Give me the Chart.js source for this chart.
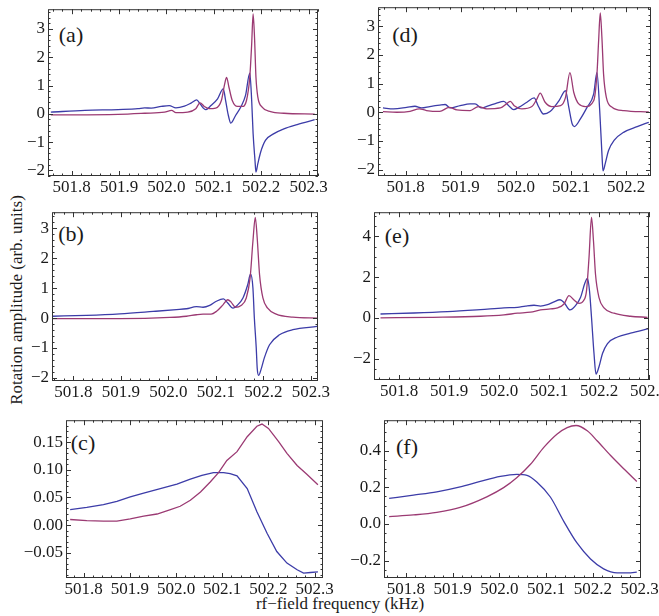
<!DOCTYPE html>
<html>
<head>
<meta charset="utf-8">
<script src="https://cdn.jsdelivr.net/npm/chart.js@4.4.0/dist/chart.umd.min.js"></script>
<style>
  body { margin: 0; background: #fff; width: 659px; height: 616px; overflow: hidden; position: relative;
         font-family: "Liberation Serif", "Times New Roman", serif; color: #1a1a1a; }
  canvas { position: absolute; }
  .tag { position: absolute; font-size: 22px; transform: translate(-50%, -50%); white-space: nowrap; }
  .title { position: absolute; font-size: 17px; white-space: nowrap; transform: translate(-50%, -50%); }
  .title.y { transform: translate(-50%, -50%) rotate(-90deg); }
</style>
</head>
<body>
<div class="tag" style="left:71px;top:35px">(a)</div>
<div class="tag" style="left:71px;top:234px">(b)</div>
<div class="tag" style="left:83px;top:443px">(c)</div>
<div class="tag" style="left:405px;top:35px">(d)</div>
<div class="tag" style="left:397px;top:236px">(e)</div>
<div class="tag" style="left:407px;top:447px">(f)</div>
<div class="title y" style="left:17px;top:300px">Rotation amplitude (arb. units)</div>
<div class="title" style="left:340px;top:604px">rf−field frequency (kHz)</div>
<script>
// tick labels
const xTicks = [501.8, 501.9, 502.0, 502.1, 502.2, 502.3];
const xTicksD = [501.8, 501.9, 502.0, 502.1, 502.2];
const yTicksAB = [-2, -1, 0, 1, 2, 3];
const yTicksE = [-2, 0, 2, 4];
const yTicksC = [-0.05, 0, 0.05, 0.1, 0.15];
const yTicksF = [-0.2, 0, 0.2, 0.4];

// (a)
const aFreqBlue = [501.756, 501.828, 501.898, 501.940, 501.954, 501.968, 501.989, 502.006, 502.020, 502.038, 502.052, 502.064, 502.071, 502.083, 502.094, 502.108, 502.120, 502.125, 502.130, 502.136, 502.146, 502.157, 502.167, 502.176, 502.180, 502.183, 502.187, 502.189, 502.193, 502.199, 502.209, 502.227, 502.248, 502.276, 502.313];
const aBlue = [0.06, 0.12, 0.15, 0.18, 0.21, 0.2, 0.26, 0.29, 0.21, 0.27, 0.38, 0.49, 0.35, 0.15, 0.29, 0.53, 0.88, 0.47, 0.0, -0.33, -0.06, 0.24, 0.65, 1.44, 0.47, -0.7, -1.65, -2.06, -1.76, -1.35, -0.94, -0.7, -0.53, -0.38, -0.21];
const aFreqRed = [501.756, 501.898, 501.954, 501.996, 502.011, 502.020, 502.045, 502.062, 502.071, 502.080, 502.090, 502.104, 502.116, 502.123, 502.127, 502.132, 502.139, 502.150, 502.160, 502.169, 502.176, 502.180, 502.183, 502.186, 502.189, 502.193, 502.202, 502.220, 502.248, 502.313];
const aRed = [-0.04, -0.02, 0.02, 0.06, 0.12, 0.04, 0.06, 0.18, 0.39, 0.26, 0.18, 0.2, 0.47, 1.06, 1.29, 0.94, 0.47, 0.26, 0.26, 0.47, 1.3, 2.47, 3.53, 2.7, 1.3, 0.59, 0.24, 0.08, 0.02, -0.01];

// (b)
const bFreqBlue = [501.756, 501.828, 501.898, 501.968, 502.017, 502.038, 502.059, 502.073, 502.087, 502.101, 502.116, 502.125, 502.136, 502.146, 502.157, 502.167, 502.173, 502.178, 502.181, 502.185, 502.187, 502.190, 502.195, 502.202, 502.213, 502.234, 502.262, 502.313];
const bBlue = [0.06, 0.09, 0.14, 0.22, 0.28, 0.31, 0.38, 0.36, 0.42, 0.56, 0.64, 0.5, 0.33, 0.44, 0.67, 1.11, 1.47, 1.0, 0.0, -1.0, -1.67, -1.91, -1.72, -1.33, -0.89, -0.56, -0.39, -0.28];
const bFreqRed = [501.756, 501.898, 502.003, 502.038, 502.059, 502.073, 502.090, 502.101, 502.115, 502.125, 502.132, 502.141, 502.153, 502.164, 502.172, 502.178, 502.183, 502.187, 502.192, 502.199, 502.209, 502.227, 502.262, 502.313];
const bRed = [-0.02, -0.02, 0.02, 0.06, 0.11, 0.13, 0.13, 0.22, 0.44, 0.61, 0.53, 0.36, 0.42, 0.67, 1.33, 2.56, 3.36, 2.67, 1.44, 0.67, 0.33, 0.13, 0.03, 0.0];

// (c) measured
const cFreqBlue = [501.771, 501.807, 501.843, 501.872, 501.901, 501.930, 501.966, 502.002, 502.031, 502.056, 502.081, 502.103, 502.117, 502.132, 502.154, 502.175, 502.197, 502.218, 502.240, 502.262, 502.276, 502.291, 502.307];
const cBlue = [0.028, 0.032, 0.037, 0.043, 0.051, 0.058, 0.066, 0.074, 0.083, 0.090, 0.095, 0.095, 0.093, 0.089, 0.066, 0.024, -0.015, -0.048, -0.069, -0.081, -0.087, -0.086, -0.085];
const cFreqRed = [501.771, 501.807, 501.843, 501.872, 501.901, 501.930, 501.959, 501.988, 502.009, 502.031, 502.053, 502.074, 502.092, 502.110, 502.132, 502.154, 502.175, 502.186, 502.200, 502.222, 502.240, 502.262, 502.283, 502.307];
const cRed = [0.010, 0.008, 0.007, 0.007, 0.011, 0.016, 0.020, 0.028, 0.034, 0.045, 0.060, 0.078, 0.095, 0.117, 0.133, 0.160, 0.179, 0.183, 0.175, 0.151, 0.130, 0.108, 0.092, 0.073];

// (d)
const dFreqBlue = [501.759, 501.778, 501.802, 501.817, 501.829, 501.844, 501.862, 501.872, 501.881, 501.899, 501.917, 501.926, 501.938, 501.950, 501.965, 501.978, 501.987, 501.996, 502.005, 502.020, 502.033, 502.041, 502.050, 502.062, 502.078, 502.090, 502.096, 502.102, 502.106, 502.117, 502.129, 502.141, 502.147, 502.152, 502.156, 502.158, 502.162, 502.168, 502.178, 502.196, 502.220, 502.241];
const dBlue = [0.15, 0.12, 0.17, 0.21, 0.15, 0.2, 0.25, 0.27, 0.15, 0.23, 0.29, 0.29, 0.15, 0.22, 0.32, 0.38, 0.23, 0.09, 0.17, 0.35, 0.5, 0.2, -0.06, 0.03, 0.4, 0.75, 0.17, -0.4, -0.5, -0.23, 0.17, 0.63, 1.38, 0.06, -1.44, -2.04, -1.79, -1.33, -0.98, -0.69, -0.5, -0.35];
const dFreqRed = [501.759, 501.784, 501.808, 501.825, 501.838, 501.862, 501.879, 501.893, 501.917, 501.932, 501.947, 501.972, 501.984, 501.990, 501.997, 502.011, 502.029, 502.038, 502.044, 502.053, 502.065, 502.081, 502.090, 502.098, 502.105, 502.114, 502.126, 502.141, 502.147, 502.150, 502.153, 502.156, 502.159, 502.164, 502.175, 502.196, 502.241];
const dRed = [0.02, 0.0, 0.03, 0.12, 0.06, 0.03, 0.17, 0.08, 0.06, 0.2, 0.12, 0.15, 0.31, 0.38, 0.23, 0.12, 0.2, 0.46, 0.67, 0.35, 0.2, 0.23, 0.52, 1.38, 0.69, 0.29, 0.2, 0.4, 1.33, 2.48, 3.46, 2.6, 1.33, 0.52, 0.17, 0.06, 0.01];

// (e)
const eFreqBlue = [501.763, 501.830, 501.897, 501.963, 502.010, 502.037, 502.053, 502.070, 502.083, 502.097, 502.110, 502.122, 502.130, 502.142, 502.153, 502.163, 502.172, 502.177, 502.181, 502.185, 502.190, 502.194, 502.200, 502.207, 502.217, 502.237, 502.263, 502.300];
const eBlue = [0.19, 0.24, 0.31, 0.41, 0.49, 0.52, 0.58, 0.62, 0.58, 0.65, 0.79, 0.89, 0.76, 0.39, 0.6, 1.0, 1.73, 1.94, 1.33, 0.03, -1.75, -2.76, -2.4, -1.75, -1.26, -0.94, -0.75, -0.53];
const eFreqRed = [501.763, 501.863, 501.963, 502.010, 502.037, 502.063, 502.083, 502.103, 502.117, 502.130, 502.140, 502.150, 502.160, 502.169, 502.175, 502.180, 502.185, 502.189, 502.193, 502.200, 502.210, 502.230, 502.263, 502.297];
const eRed = [0.0, 0.03, 0.08, 0.15, 0.23, 0.28, 0.39, 0.44, 0.49, 0.68, 1.09, 0.88, 0.71, 0.84, 1.33, 2.95, 4.93, 3.76, 2.14, 1.0, 0.49, 0.23, 0.08, 0.03];

// (f) model
const fFreqBlue = [501.764, 501.816, 501.866, 501.916, 501.959, 502.002, 502.037, 502.059, 502.080, 502.109, 502.138, 502.166, 502.195, 502.223, 502.252, 502.281, 502.294];
const fBlue = [0.139, 0.157, 0.175, 0.202, 0.232, 0.259, 0.270, 0.265, 0.229, 0.147, 0.013, -0.104, -0.191, -0.245, -0.267, -0.267, -0.263];
const fFreqRed = [501.764, 501.816, 501.866, 501.916, 501.973, 502.009, 502.037, 502.066, 502.095, 502.123, 502.145, 502.164, 502.188, 502.209, 502.238, 502.266, 502.294];
const fRed = [0.040, 0.049, 0.063, 0.090, 0.148, 0.198, 0.252, 0.324, 0.418, 0.490, 0.526, 0.537, 0.508, 0.454, 0.373, 0.301, 0.232];

const BLUE = '#3c3ca8';
const RED = '#9b3a73';
const FONT = { family: '"Liberation Serif", "Times New Roman", serif', size: 17 };
const PAD_TOP = 12, PAD_RIGHT = 24, X_H = 24;

const pts = (xs, ys) => xs.map((x, i) => ({ x, y: ys[i] }));
const minus = s => s.replace('-', '\u2212');

// inward frame ticks on all four sides, like a Mathematica frame
const framePlugin = {
  id: 'frame',
  afterDatasetsDraw(chart, args, o) {
    const { ctx, chartArea: a, scales: { x, y } } = chart;
    ctx.save();
    ctx.strokeStyle = '#333';
    ctx.lineWidth = 1;
    ctx.strokeRect(a.left + 0.5, a.top + 0.5, a.right - a.left - 1, a.bottom - a.top - 1);
    ctx.beginPath();
    const xMark = (v, len) => {
      const p = Math.round(x.getPixelForValue(v)) + 0.5;
      ctx.moveTo(p, a.bottom); ctx.lineTo(p, a.bottom - len);
      ctx.moveTo(p, a.top); ctx.lineTo(p, a.top + len);
    };
    const yMark = (v, len) => {
      const p = Math.round(y.getPixelForValue(v)) + 0.5;
      ctx.moveTo(a.left, p); ctx.lineTo(a.left + len, p);
      ctx.moveTo(a.right, p); ctx.lineTo(a.right - len, p);
    };
    for (let v = Math.ceil(x.min / o.xMinor) * o.xMinor; v <= x.max; v += o.xMinor) xMark(v, 2.5);
    for (let v = Math.ceil(y.min / o.yMinor) * o.yMinor; v <= y.max; v += o.yMinor) yMark(v, 2.5);
    o.xTicks.forEach(v => xMark(v, 5));
    o.yTicks.forEach(v => yMark(v, 5));
    ctx.stroke();
    ctx.restore();
  }
};

const panels = [
  { frame: [48, 8, 318, 176], left: 0, xr: [501.75, 502.32], yr: [-2.2, 3.7], xt: xTicks, yt: yTicksAB, ym: 0.2, dig: 0,
    blue: pts(aFreqBlue, aBlue), red: pts(aFreqRed, aRed), smooth: true },
  { frame: [52, 211, 318, 381], left: 0, xr: [501.755, 502.315], yr: [-2.1, 3.53], xt: xTicks, yt: yTicksAB, ym: 0.2, dig: 0,
    blue: pts(bFreqBlue, bBlue), red: pts(bFreqRed, bRed), smooth: true },
  { frame: [66, 419, 323, 578], left: 0, xr: [501.762, 502.318], yr: [-0.096, 0.19], xt: xTicks, yt: yTicksC, ym: 0.01, dig: 2,
    blue: pts(cFreqBlue, cBlue), red: pts(cFreqRed, cRed), smooth: false },
  { frame: [378, 6, 651, 176], left: 330, xr: [501.75, 502.245], yr: [-2.22, 3.66], xt: xTicksD, yt: yTicksAB, ym: 0.2, dig: 0,
    blue: pts(dFreqBlue, dBlue), red: pts(dFreqRed, dRed), smooth: true },
  { frame: [374, 211, 649, 380], left: 330, xr: [501.75, 502.3], yr: [-3.05, 5.19], xt: xTicks, yt: yTicksE, ym: 0.5, dig: 0,
    blue: pts(eFreqBlue, eBlue), red: pts(eFreqRed, eRed), smooth: true },
  { frame: [384, 419, 641, 578], left: 330, xr: [501.753, 502.303], yr: [-0.295, 0.566], xt: xTicks, yt: yTicksF, ym: 0.05, dig: 1,
    blue: pts(fFreqBlue, fBlue), red: pts(fFreqRed, fRed), smooth: true }
];

panels.forEach(p => {
  const [l, t, r, b] = p.frame;
  const yW = l - p.left;
  const cv = document.createElement('canvas');
  cv.width = yW + (r - l) + PAD_RIGHT;
  cv.height = PAD_TOP + (b - t) + X_H;
  cv.style.left = p.left + 'px';
  cv.style.top = (t - PAD_TOP) + 'px';
  document.body.appendChild(cv);

  const line = (data, color) => ({
    data, borderColor: color, borderWidth: 1.3, pointRadius: 0, fill: false,
    cubicInterpolationMode: p.smooth ? 'monotone' : 'default', tension: 0
  });

  new Chart(cv, {
    type: 'line',
    data: { datasets: [line(p.red, RED), line(p.blue, BLUE)] },
    options: {
      responsive: false,
      animation: false,
      layout: { padding: { top: PAD_TOP, right: PAD_RIGHT, left: 0, bottom: 0 } },
      plugins: {
        legend: { display: false },
        tooltip: { enabled: false },
        frame: { xTicks: p.xt, yTicks: p.yt, xMinor: 0.02, yMinor: p.ym }
      },
      scales: {
        x: {
          type: 'linear', min: p.xr[0], max: p.xr[1],
          afterBuildTicks: s => { s.ticks = p.xt.map(v => ({ value: v })); },
          afterFit: s => { s.height = X_H; },
          grid: { display: false, drawTicks: false },
          border: { display: false },
          ticks: { autoSkip: false, maxRotation: 0, padding: 1, color: '#1a1a1a', font: FONT,
                   callback: v => v.toFixed(1) }
        },
        y: {
          type: 'linear', min: p.yr[0], max: p.yr[1],
          afterBuildTicks: s => { s.ticks = p.yt.map(v => ({ value: v })); },
          afterFit: s => { s.width = yW; },
          grid: { display: false, drawTicks: false },
          border: { display: false },
          ticks: { autoSkip: false, padding: 3, color: '#1a1a1a', font: FONT,
                   callback: v => minus(v.toFixed(p.dig)) }
        }
      }
    },
    plugins: [framePlugin]
  });
});
</script>
</body>
</html>
